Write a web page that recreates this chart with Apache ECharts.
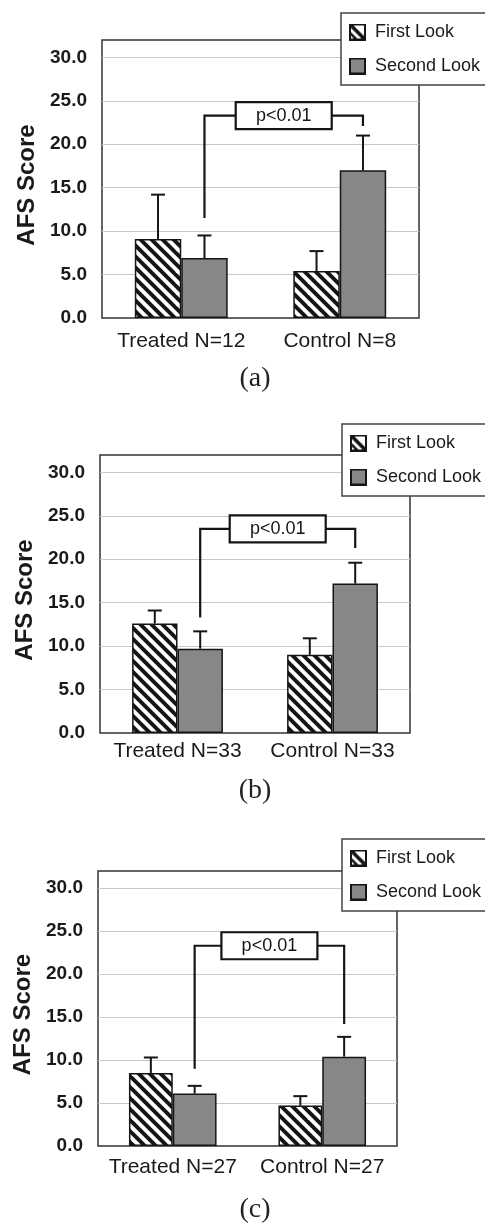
<!DOCTYPE html>
<html><head><meta charset="utf-8">
<script src="https://cdn.jsdelivr.net/npm/echarts@6/dist/echarts.min.js"></script>
<style>html,body{margin:0;padding:0;background:#fff}#c{width:485px;height:1223px}</style>
</head><body><div id="c"></div>
<script>
// ---- data ----
const seriesNames = ['First Look', 'Second Look'];
const captions = ['(a)', '(b)', '(c)'];
const yTicks = [0, 5, 10, 15, 20, 25, 30];
const pLabel = 'p<0.01';

const catsA = ['Treated N=12', 'Control N=8'];
const firstA = [9.1, 5.4];
const firstSdA = [5.1, 2.3];
const secondA = [6.9, 17.0];
const secondSdA = [2.6, 4.0];
const bracketA = [11.5, 23.3, 22.1]; // left bottom, top, right bottom

const catsB = ['Treated N=33', 'Control N=33'];
const firstB = [12.6, 9.0];
const firstSdB = [1.5, 1.9];
const secondB = [9.7, 17.2];
const secondSdB = [2.0, 2.4];
const bracketB = [13.3, 23.5, 21.3];

const catsC = ['Treated N=27', 'Control N=27'];
const firstC = [8.5, 4.7];
const firstSdC = [1.8, 1.1];
const secondC = [6.1, 10.4];
const secondSdC = [0.9, 2.3];
const bracketC = [9.0, 23.3, 14.2];

// ---- layout / style ----
const panels = [
  {cats: catsA, first: firstA, fsd: firstSdA, second: secondA, ssd: secondSdA, br: bracketA},
  {cats: catsB, first: firstB, fsd: firstSdB, second: secondB, ssd: secondSdB, br: bracketB},
  {cats: catsC, first: firstC, fsd: firstSdC, second: secondC, ssd: secondSdC, br: bracketC}
];
const grids = [
  {left: 102, top: 40, width: 317, height: 278},
  {left: 100, top: 455, width: 310, height: 278},
  {left: 98, top: 871, width: 299, height: 275}
];
const legendPos = [[341, 13], [342, 424], [342, 839]];
const captionTop = [365, 777, 1196];
const catMargin = [13, 8, 11];
const BARW = 0.293;
const INK = '#151515';
const GRAY = '#878787';

function hatch() {
  const P = 11, N = 4, S = P * N;
  const c = document.createElement('canvas');
  c.width = S; c.height = S;
  const g = c.getContext('2d');
  g.fillStyle = '#fff'; g.fillRect(0, 0, S, S);
  g.strokeStyle = INK; g.lineWidth = 3.9; g.lineCap = 'butt';
  for (let k = -N - 1; k <= N + 1; k++) {
    const o = k * P;
    g.beginPath(); g.moveTo(o - 4, -4); g.lineTo(o + S + 4, S + 4); g.stroke();
  }
  return c;
}
const hatchFill = {image: hatch(), repeat: 'repeat'};

function iconURL(kind) {
  const s = 17;
  const c = document.createElement('canvas');
  c.width = s; c.height = s;
  const g = c.getContext('2d');
  g.fillStyle = kind === 0 ? '#fff' : GRAY; g.fillRect(0, 0, s, s);
  if (kind === 0) {
    g.save(); g.beginPath(); g.rect(0, 0, s, s); g.clip();
    g.strokeStyle = INK; g.lineWidth = 3.6;
    g.beginPath(); g.moveTo(0, 0); g.lineTo(s, s); g.stroke();
    g.lineWidth = 2.5;
    g.beginPath(); g.moveTo(-s / 2, 0); g.lineTo(s / 2, s); g.stroke();
    g.restore();
  }
  g.strokeStyle = INK; g.lineWidth = 2; g.strokeRect(1, 1, s - 2, s - 2);
  return 'image://' + c.toDataURL();
}
const legendIcons = [iconURL(0), iconURL(1)];

function errRender(params, api) {
  const cat = api.value(0), base = api.value(1), top = api.value(2), side = api.value(3);
  const band = api.size([1, 0])[0];
  const cx = api.coord([cat, 0])[0] + side * band * BARW / 2;
  const y0 = api.coord([cat, base])[1], y1 = api.coord([cat, top])[1];
  const st = {stroke: INK, lineWidth: 2};
  return {type: 'group', children: [
    {type: 'line', shape: {x1: cx, y1: y0, x2: cx, y2: y1}, style: st},
    {type: 'line', shape: {x1: cx - 7, y1: y1, x2: cx + 7, y2: y1}, style: st}
  ]};
}
function bracketRender(params, api) {
  const lb = api.value(1), tp = api.value(2), rb = api.value(3);
  const band = api.size([1, 0])[0];
  const xl = api.coord([0, 0])[0] + band * BARW / 2;
  const xr = api.coord([1, 0])[0] + band * BARW / 2;
  const yl = api.coord([0, lb])[1], yt = api.coord([0, tp])[1], yr = api.coord([1, rb])[1];
  const xm = (xl + xr) / 2;
  const st = {stroke: INK, lineWidth: 2.2, fill: null};
  return {type: 'group', children: [
    {type: 'polyline', shape: {points: [[xl, yl], [xl, yt], [xr, yt], [xr, yr]]}, style: st},
    {type: 'rect', shape: {x: xm - 48, y: yt - 13.5, width: 96, height: 27}, style: {fill: '#fff', stroke: INK, lineWidth: 2.2}},
    {type: 'text', x: xm, y: yt, style: {text: pLabel, fill: INK, font: '18px "Liberation Sans", Arial, sans-serif', align: 'center', verticalAlign: 'middle'}}
  ]};
}

const option = {
  animation: false,
  backgroundColor: '#fff',
  title: captions.map((t, i) => ({
    text: t, left: 255, top: captionTop[i], textAlign: 'center', padding: 0,
    textStyle: {fontFamily: '"Liberation Serif", "Times New Roman", serif', fontSize: 28, fontWeight: 'normal', color: '#222'}
  })),
  grid: grids.map(g => Object.assign({show: true, borderColor: '#333', borderWidth: 1.5, backgroundColor: 'transparent'}, g)),
  legend: legendPos.map((p, i) => ({
    orient: 'vertical', left: p[0], top: p[1], padding: [10, 26, 10, 8],
    itemWidth: 17, itemHeight: 17, itemGap: 16,
    backgroundColor: '#fff', borderColor: '#444', borderWidth: 1.5, borderRadius: 0,
    textStyle: {fontSize: 18, lineHeight: 17, fontFamily: '"Liberation Sans", Arial, sans-serif', color: '#1a1a1a', padding: [0, 0, 0, 4]},
    data: seriesNames.map((n, k) => ({name: n, icon: legendIcons[k]}))
  })),
  xAxis: panels.map((p, i) => ({
    type: 'category', gridIndex: i, data: p.cats,
    axisTick: {show: false}, axisLine: {show: false},
    axisLabel: {interval: 0, hideOverlap: false, fontSize: 21, color: '#1a1a1a', fontFamily: '"Liberation Sans", Arial, sans-serif', margin: catMargin[i]}
  })),
  yAxis: panels.map((p, i) => ({
    type: 'value', gridIndex: i, min: 0, max: 32, interval: 5,
    name: 'AFS Score', nameLocation: 'middle', nameGap: 62, nameRotate: 90,
    nameTextStyle: {fontSize: 24, fontWeight: 'bold', color: '#1a1a1a', fontFamily: '"Liberation Sans", Arial, sans-serif', padding: [0, 12, 0, 0]},
    axisLine: {show: false}, axisTick: {show: false},
    axisLabel: {
      showMaxLabel: false, margin: 15, color: '#1a1a1a', fontSize: 19, fontWeight: 'bold',
      fontFamily: '"Liberation Sans Narrow", "Arial Narrow", "Liberation Sans", sans-serif',
      formatter: v => (yTicks.indexOf(v) >= 0 ? v.toFixed(1) : '')
    },
    splitLine: {show: true, showMaxLine: false, showMinLine: false, lineStyle: {color: '#c8c8c8', width: 1}}
  })),
  series: []
};

panels.forEach((p, i) => {
  option.series.push({
    type: 'bar', name: seriesNames[0], xAxisIndex: i, yAxisIndex: i, data: p.first,
    barWidth: (BARW * 100) + '%', barGap: '0%',
    itemStyle: {color: hatchFill, borderColor: INK, borderWidth: 1.5}
  });
  option.series.push({
    type: 'bar', name: seriesNames[1], xAxisIndex: i, yAxisIndex: i, data: p.second,
    barWidth: (BARW * 100) + '%', barGap: '0%',
    itemStyle: {color: GRAY, borderColor: INK, borderWidth: 1.5}
  });
  const errData = [];
  p.first.forEach((v, k) => errData.push([k, v, v + p.fsd[k], -1]));
  p.second.forEach((v, k) => errData.push([k, v, v + p.ssd[k], 1]));
  option.series.push({
    type: 'custom', xAxisIndex: i, yAxisIndex: i, z: 5, silent: true,
    renderItem: errRender, data: errData, encode: {x: 0, y: 2}
  });
  option.series.push({
    type: 'custom', xAxisIndex: i, yAxisIndex: i, z: 6, silent: true,
    renderItem: bracketRender, data: [[0, p.br[0], p.br[1], p.br[2]]], encode: {x: 0, y: 2}
  });
});

const chart = echarts.init(document.getElementById('c'), null, {renderer: 'canvas'});
chart.setOption(option);
</script>
</body></html>
